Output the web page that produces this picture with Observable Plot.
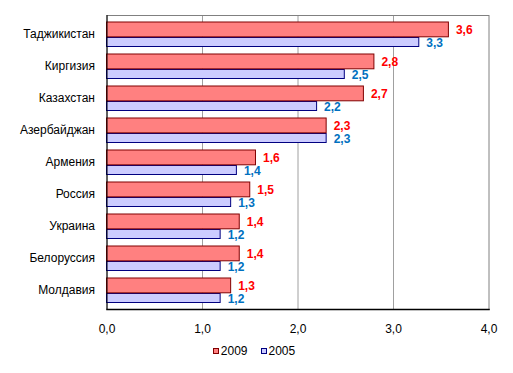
<!DOCTYPE html>
<html>
<head>
<meta charset="utf-8">
<script src="https://cdn.jsdelivr.net/npm/d3@7"></script>
<script src="https://cdn.jsdelivr.net/npm/@observablehq/plot@0.6"></script>
<style>
  body { margin: 0; background: #fff; font-family: Arial, "Liberation Sans", sans-serif; }
  #legend { display: flex; justify-content: center; align-items: center; margin-top: 4px; height: 14px; line-height: 14px; font-size: 12px; color: #000; padding-right: 5px; }
  .item { display: flex; align-items: center; }
  .sw { width: 4px; height: 4px; border: 1px solid; margin-right: 2px; }
</style>
</head>
<body>
<div id="chart"></div>
<script>
const categories = ["Таджикистан","Киргизия","Казахстан","Азербайджан","Армения","Россия","Украина","Белоруссия","Молдавия"];
const values2009 = [3.58, 2.80, 2.69, 2.30, 1.56, 1.50, 1.39, 1.39, 1.30];
const values2005 = [3.27, 2.49, 2.20, 2.30, 1.36, 1.30, 1.19, 1.19, 1.19];
const xTicks = [0, 1, 2, 3, 4];
const seriesNames = ["2009", "2005"];

const data = categories.map((c, i) => ({cat: c, v2009: values2009[i], v2005: values2005[i]}));
const fmt = d => d.toFixed(1).replace(".", ",");

const chart = Plot.plot({
  width: 513,
  height: 340,
  marginTop: 15,
  marginBottom: 31,
  marginLeft: 106.5,
  marginRight: 24.5,
  style: {fontFamily: "Arial, 'Liberation Sans', sans-serif", fontSize: "12px", color: "#000", background: "#fff"},
  x: {domain: [0, 4]},
  y: {domain: categories, padding: 0},
  marks: [
    Plot.ruleX(xTicks.slice(1, 4), {stroke: "#a0a0a0", strokeWidth: 1}),
    Plot.frame({stroke: "#808080"}),
    Plot.barX(data, {x: "v2005", y: "cat", fill: "#ccccff", stroke: "#000080", strokeWidth: 1, insetTop: 19.5, insetBottom: 3.5}),
    Plot.barX(data, {x: "v2009", y: "cat", fill: "#ff8080", stroke: "#800000", strokeWidth: 1, insetTop: 4, insetBottom: 13.2}),
    Plot.ruleX([0], {stroke: "#000"}),
    Plot.frame({anchor: "bottom", stroke: "#000", strokeWidth: 1.5}),
    Plot.text(data, {x: "v2009", y: "cat", text: d => fmt(d.v2009), textAnchor: "start", dx: 7, dy: -4.5, fill: "#ff0000", fontWeight: "bold", fontSize: 12}),
    Plot.text(data, {x: "v2005", y: "cat", text: d => fmt(d.v2005), textAnchor: "start", dx: 7, dy: 9, fill: "#0070c0", fontWeight: "bold", fontSize: 12}),
    Plot.axisX({ticks: xTicks, tickFormat: fmt, tickSize: 0, tickPadding: 15, label: null}),
    Plot.axisY({tickSize: 0, tickPadding: 12, label: null})
  ]
});
document.getElementById("chart").appendChild(chart);

const legend = document.createElement("div");
legend.id = "legend";
const legendStyles = [["#ff8080", "#800000"], ["#ccccff", "#000080"]];
seriesNames.forEach((name, i) => {
  const item = document.createElement("div");
  item.className = "item";
  if (i > 0) item.style.marginLeft = "13px";
  const sw = document.createElement("span");
  sw.className = "sw";
  sw.style.background = legendStyles[i][0];
  sw.style.borderColor = legendStyles[i][1];
  item.appendChild(sw);
  const t = document.createElement("span");
  t.textContent = name;
  item.appendChild(t);
  legend.appendChild(item);
});
document.body.appendChild(legend);
</script>
</body>
</html>
